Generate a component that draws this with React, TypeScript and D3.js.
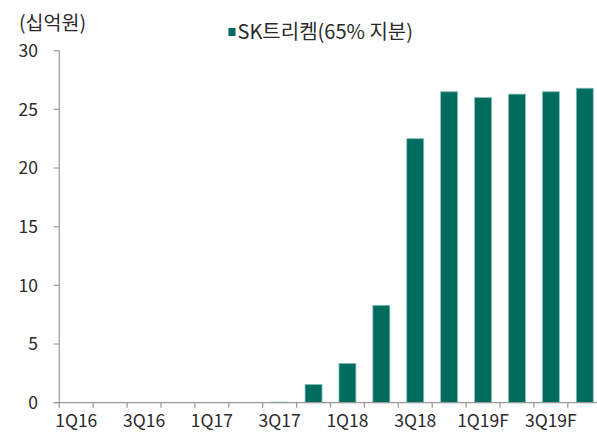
import * as d3 from 'd3';
import { useEffect, useRef } from 'react';

// Chart data
const categories = [
  '1Q16', '2Q16', '3Q16', '4Q16',
  '1Q17', '2Q17', '3Q17', '4Q17',
  '1Q18', '2Q18', '3Q18', '4Q18',
  '1Q19F', '2Q19F', '3Q19F', '4Q19F',
];
const values = [0, 0, 0, 0, 0, 0, 0.05, 1.55, 3.35, 8.3, 22.5, 26.5, 26.0, 26.3, 26.5, 26.8];
const shownLabels = ['1Q16', '3Q16', '1Q17', '3Q17', '1Q18', '3Q18', '1Q19F', '3Q19F'];
const yTicks = [0, 5, 10, 15, 20, 25, 30];
const seriesName = 'SK트리켐(65% 지분)';
const unitLabel = '(십억원)';

export default function App() {
  const chartRef = useRef<SVGSVGElement | null>(null);

  const width = 597;
  const height = 434;
  const margin = { top: 50.7, bottom: 31.3, left: 59.3 };
  const step = 33.9;
  const font = '"Noto Sans CJK KR", "Noto Sans", sans-serif';
  const axisColor = '#9a9a9a';
  const textColor = '#2a2a2a';

  useEffect(() => {
    const svg = d3.select(chartRef.current);
    svg.selectAll('*').remove();

    const x = d3
      .scaleBand()
      .domain(categories)
      .range([margin.left, margin.left + step * categories.length])
      .paddingInner(0.5)
      .paddingOuter(0.25);
    const y = d3
      .scaleLinear()
      .domain([0, 30])
      .range([height - margin.bottom, margin.top]);

    // bars
    svg
      .append('g')
      .selectAll('rect')
      .data(values)
      .enter()
      .append('rect')
      .attr('x', (d, i) => x(categories[i]) as number)
      .attr('width', x.bandwidth())
      .attr('y', (d) => y(d))
      .attr('height', (d) => y(0) - y(d))
      .attr('fill', '#006b5f')
      .attr('stroke', '#86c0b8')
      .attr('stroke-width', 0.8);

    // y axis
    const yAxis = svg.append('g');
    yAxis
      .append('line')
      .attr('x1', margin.left)
      .attr('x2', margin.left)
      .attr('y1', y(30))
      .attr('y2', y(0))
      .attr('stroke', axisColor)
      .attr('stroke-width', 1.2);
    yAxis
      .selectAll('line.tick')
      .data(yTicks)
      .enter()
      .append('line')
      .attr('class', 'tick')
      .attr('x1', margin.left - 5.5)
      .attr('x2', margin.left)
      .attr('y1', (d) => y(d))
      .attr('y2', (d) => y(d))
      .attr('stroke', axisColor)
      .attr('stroke-width', 1.2);
    yAxis
      .selectAll('text')
      .data(yTicks)
      .enter()
      .append('text')
      .attr('x', 38)
      .attr('y', (d) => y(d))
      .attr('dy', '0.36em')
      .attr('text-anchor', 'end')
      .style('font-family', font)
      .style('font-size', '17.5px')
      .attr('fill', textColor)
      .text((d) => d);

    // x axis
    const xAxis = svg.append('g');
    xAxis
      .append('line')
      .attr('x1', margin.left - 5.5)
      .attr('x2', width)
      .attr('y1', y(0))
      .attr('y2', y(0))
      .attr('stroke', axisColor)
      .attr('stroke-width', 1.2);
    xAxis
      .selectAll('line.tick')
      .data(categories)
      .enter()
      .append('line')
      .attr('class', 'tick')
      .attr('x1', (d) => (x(d) as number) - x.step() * 0.25)
      .attr('x2', (d) => (x(d) as number) - x.step() * 0.25)
      .attr('y1', y(0))
      .attr('y2', y(0) + 5)
      .attr('stroke', axisColor)
      .attr('stroke-width', 1.2);
    xAxis
      .selectAll('text')
      .data(shownLabels)
      .enter()
      .append('text')
      .attr('x', (d) => (x(d) as number) + x.bandwidth() / 2)
      .attr('y', 427)
      .attr('text-anchor', 'middle')
      .style('font-family', font)
      .style('font-size', '17.5px')
      .attr('fill', textColor)
      .text((d) => d);

    // unit label
    svg
      .append('text')
      .attr('x', 19)
      .attr('y', 30)
      .style('font-family', font)
      .style('font-size', '19.5px')
      .attr('fill', textColor)
      .text(unitLabel);

    // legend
    svg
      .append('rect')
      .attr('x', 228.5)
      .attr('y', 28)
      .attr('width', 7)
      .attr('height', 8)
      .attr('fill', '#006b5f');
    svg
      .append('text')
      .attr('x', 237.5)
      .attr('y', 38.5)
      .style('font-family', font)
      .style('font-size', '20px')
      .attr('fill', textColor)
      .text(seriesName);
  }, []);

  return (
    <svg
      ref={chartRef}
      width={width}
      height={height}
      style={{ position: 'absolute', left: 0, top: 0, background: '#fff' }}
    />
  );
}
